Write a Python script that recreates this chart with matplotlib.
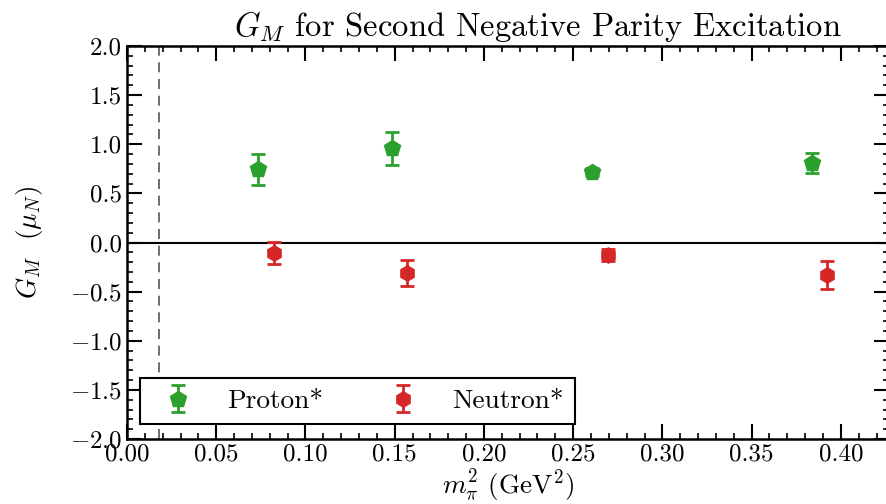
import matplotlib

matplotlib.use("Agg")
import matplotlib.pyplot as plt
import matplotlib.ticker as mticker

# Data
proton_x = [0.0736, 0.1483, 0.2607, 0.3836]
proton_y = [0.745, 0.959, 0.721, 0.806]
proton_err = [0.158, 0.169, 0.04, 0.10]

neutron_x = [0.0825, 0.1567, 0.2693, 0.3920]
neutron_y = [-0.106, -0.314, -0.127, -0.331]
neutron_err = [0.11, 0.132, 0.06, 0.146]

phys_mpi2 = 0.0181

plt.rcParams["font.family"] = "serif"
plt.rcParams["font.serif"] = ["cmr10"]
plt.rcParams["mathtext.fontset"] = "cm"
plt.rcParams["axes.formatter.use_mathtext"] = True

fig = plt.figure(figsize=(8.87, 5.04), dpi=100)
ax = fig.add_axes([127 / 887, 65 / 504, 762 / 887, 393 / 504])

# Data points with error bars
ax.errorbar(proton_x, proton_y, yerr=proton_err, fmt="p", color="#2ca02c",
            markersize=12, elinewidth=2, capsize=5, capthick=2, label="Proton*", zorder=3)
ax.errorbar(neutron_x, neutron_y, yerr=neutron_err, fmt="h", color="#d62728",
            markersize=11, elinewidth=2, capsize=5, capthick=2, label="Neutron*", zorder=3)

# Reference lines
ax.axhline(0, color="black", linewidth=1.5, zorder=2)
ax.axvline(phys_mpi2, color="#555555", linestyle=(0, (6, 4)), linewidth=1.2, zorder=1)

# Axis limits and ticks
ax.set_xlim(0, 0.427)
ax.set_ylim(-2.0, 2.0)
ax.set_xticks([0.0, 0.05, 0.10, 0.15, 0.20, 0.25, 0.30, 0.35, 0.40])
ax.set_xticks([i * 0.01 for i in range(43)], minor=True)
ax.set_yticks([-2.0, -1.5, -1.0, -0.5, 0.0, 0.5, 1.0, 1.5, 2.0])
ax.set_yticks([-2.0 + i * 0.1 for i in range(41)], minor=True)
ax.xaxis.set_major_formatter(mticker.FormatStrFormatter("%.2f"))
ax.yaxis.set_major_formatter(mticker.FuncFormatter(
    lambda v, p: ("$-$" if v < -1e-9 else "") + f"{abs(v):.1f}"))

ax.tick_params(axis="both", which="both", direction="in", top=True, right=True,
               labelsize=18)
ax.tick_params(which="major", length=11, width=1.5)
ax.tick_params(which="minor", length=4.5, width=1.2)
for spine in ax.spines.values():
    spine.set_linewidth(1.8)

# Labels
ax.set_title(r"$G_M$ for Second Negative Parity Excitation", fontsize=23.5,
             x=0.539, pad=7)
ax.set_xlabel(r"$m_\pi^2$ (GeV$^2$)", fontsize=19.5, labelpad=1.5)
ax.set_ylabel(r"$G_M$  $(\mu_N)$", fontsize=19.5, labelpad=18)

# Legend
leg = ax.legend(loc="lower left", bbox_to_anchor=(0.017, 0.038), borderaxespad=0,
                ncol=2, fontsize=19.7, frameon=True, fancybox=False,
                edgecolor="black", framealpha=1, columnspacing=1.9)
leg.get_frame().set_linewidth(1.5)

fig.savefig("out.png", dpi=100)
